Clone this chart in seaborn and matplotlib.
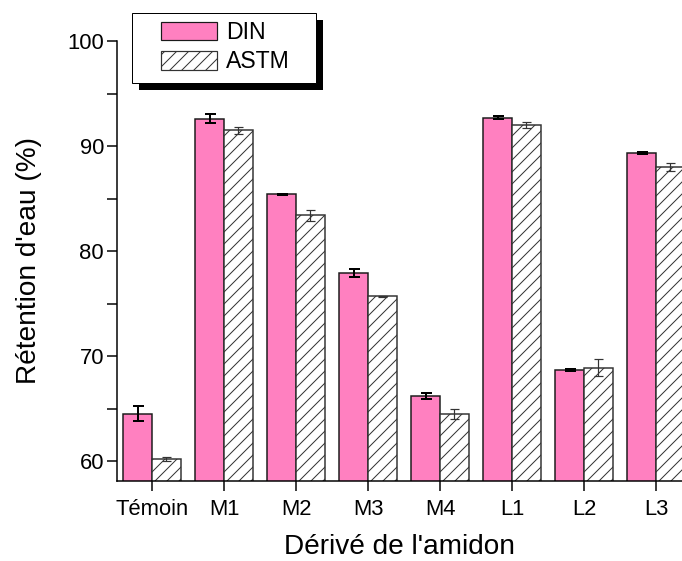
import numpy as np
import pandas as pd
import matplotlib
matplotlib.use("Agg")
import matplotlib.pyplot as plt
import seaborn as sns
from matplotlib.patches import Patch, Rectangle
from matplotlib.ticker import MultipleLocator

sns.set_style("ticks")
plt.rcParams['font.family'] = ['Liberation Sans', 'DejaVu Sans']
plt.rcParams['text.color'] = 'black'
plt.rcParams['axes.labelcolor'] = 'black'
plt.rcParams['hatch.linewidth'] = 1.0

categories = ['Témoin', 'M1', 'M2', 'M3', 'M4', 'L1', 'L2', 'L3']
din = [64.5, 92.6, 85.4, 77.9, 66.2, 92.7, 68.7, 89.3]
din_err = [0.7, 0.45, 0.05, 0.4, 0.3, 0.15, 0.1, 0.1]
astm = [60.2, 91.5, 83.4, 75.7, 64.5, 92.0, 68.9, 88.0]
astm_err = [0.2, 0.35, 0.55, 0.05, 0.5, 0.25, 0.8, 0.35]

df = pd.DataFrame({
    'cat': categories * 2,
    'val': din + astm,
    'method': ['DIN'] * len(categories) + ['ASTM'] * len(categories),
})

# work at 72 dpi so that 1 pt = 1 px
W, H = 682, 561
fig = plt.figure(figsize=(W / 72, H / 72), dpi=72)
ax = fig.add_axes([117 / W, 80 / H, 565 / W, 440 / H])

pink = '#FF80C0'
sns.barplot(data=df, x='cat', y='val', hue='method', palette=[pink, 'white'],
            errorbar=None, width=0.8, saturation=1, edgecolor='#1a1a1a',
            linewidth=1.5, legend=False, ax=ax)

n = len(categories)
for i, p in enumerate(ax.patches[:2 * n]):
    cx = p.get_x() + p.get_width() / 2
    if i < n:
        ax.errorbar(cx, din[i], yerr=din_err[i], color='black', capsize=5.5,
                    elinewidth=2, capthick=2, zorder=4)
    else:
        p.set_hatch('//')
        p.set_edgecolor('#333333')
        ax.errorbar(cx, astm[i - n], yerr=astm_err[i - n], color='#333333',
                    capsize=4.5, elinewidth=1.2, capthick=1.2, zorder=4)

ax.set_ylim(58.1, 100)
ax.set_xlim(-0.486, 7.36)
ax.yaxis.set_major_locator(MultipleLocator(10))
ax.yaxis.set_minor_locator(MultipleLocator(5))
ax.tick_params(axis='both', which='both', direction='out', width=1.5, labelsize=22,
               colors='black', length=10, pad=3)
ax.tick_params(axis='x', pad=8)
for s in ['top', 'right']:
    ax.spines[s].set_visible(False)
for s in ['left', 'bottom']:
    ax.spines[s].set_linewidth(1.5)
    ax.spines[s].set_color('black')

ax.set_xlabel("Dérivé de l'amidon", fontsize=28, labelpad=14)
ax.set_ylabel("Rétention d'eau (%)", fontsize=28, labelpad=25)

# legend box drawn by hand (Origin style with black drop shadow)
handles = [Patch(facecolor=pink, edgecolor='#1a1a1a', linewidth=1.2, label='DIN'),
           Patch(facecolor='white', edgecolor='#333333', linewidth=1.2, hatch='//', label='ASTM')]
leg = fig.legend(handles=handles, loc='upper left', bbox_to_anchor=(161 / W, 1 - 21 / H),
                 fontsize=23, frameon=False, handlelength=2.43, handleheight=0.87,
                 borderpad=0, borderaxespad=0, labelspacing=0.28, handletextpad=0.4)
leg.set_zorder(10)

fig.patches.append(Rectangle((139 / W, 1 - 90 / H), 184 / W, 70 / H, transform=fig.transFigure,
                             facecolor='black', edgecolor='none', zorder=8))
fig.patches.append(Rectangle((132 / W, 1 - 83 / H), 184 / W, 70 / H, transform=fig.transFigure,
                             facecolor='white', edgecolor='black', linewidth=1.0, zorder=9))

fig.savefig('out.png', dpi=72)
